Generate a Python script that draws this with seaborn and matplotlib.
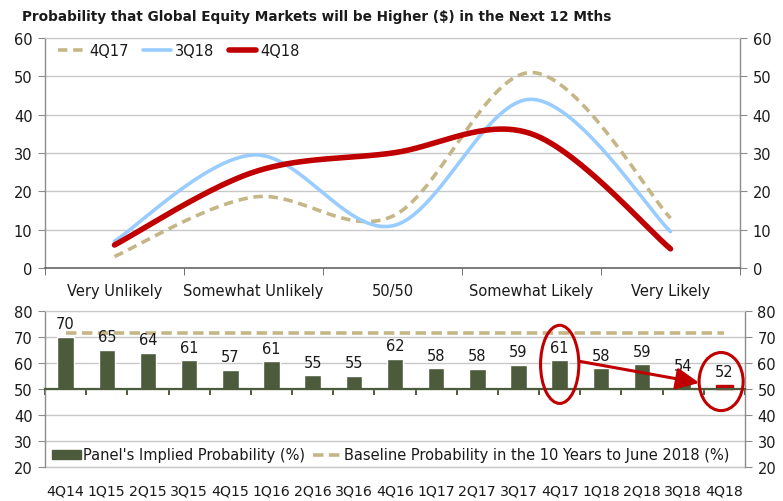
import numpy as np
import matplotlib
matplotlib.use("Agg")
import matplotlib.pyplot as plt
import seaborn as sns
from matplotlib.patches import Ellipse, Patch
from matplotlib.lines import Line2D

# ---------------- data ----------------
categories = ["Very Unlikely", "Somewhat Unlikely", "50/50", "Somewhat Likely", "Very Likely"]
s_4q17 = [3, 18.5, 13.5, 51, 13]
s_3q18 = [7, 29.5, 11, 44, 9.5]
s_4q18 = [6, 25, 30, 35, 5]

quarters = ["4Q14", "1Q15", "2Q15", "3Q15", "4Q15", "1Q16", "2Q16", "3Q16", "4Q16",
            "1Q17", "2Q17", "3Q17", "4Q17", "1Q18", "2Q18", "3Q18", "4Q18"]
implied = [70.0, 65.1, 63.9, 60.9, 57.3, 60.6, 55.2, 55.1, 61.6,
           57.9, 57.6, 59.3, 60.9, 57.9, 59.4, 53.8, 51.6]
baseline = 71.4

title = "Probability that Global Equity Markets will be Higher ($) in the Next 12 Mths"

# ---------------- style ----------------
sns.set_style("white")
plt.rcParams["font.family"] = ["DejaVu Sans"]

TAN = "#C5B687"
BLUE = "#99CCFF"
RED = "#C00000"
GREEN = "#4B5B3C"
GRID = "#C8C8C8"
SPINE = "#8C8C8C"
TXT = "#1a1a1a"
FS = 10.5


def smooth(vals, n=60):
    """Excel-like smoothed line: cubic Bezier through points."""
    y = np.asarray(vals, float)
    x = np.arange(len(y), dtype=float)
    m = len(y)
    xs, ys = [], []
    for i in range(m - 1):
        x0, y0 = (x[i - 1], y[i - 1]) if i > 0 else (x[i], y[i])
        x3, y3 = (x[i + 2], y[i + 2]) if i + 2 < m else (x[i + 1], y[i + 1])
        c1x = x[i] + (x[i + 1] - x0) / 6
        c1y = y[i] + (y[i + 1] - y0) / 6
        c2x = x[i + 1] - (x3 - x[i]) / 6
        c2y = y[i + 1] - (y3 - y[i]) / 6
        t = np.linspace(0, 1, n, endpoint=(i == m - 2))
        b0 = (1 - t) ** 3
        b1 = 3 * (1 - t) ** 2 * t
        b2 = 3 * (1 - t) * t ** 2
        b3 = t ** 3
        xs.append(b0 * x[i] + b1 * c1x + b2 * c2x + b3 * x[i + 1])
        ys.append(b0 * y[i] + b1 * c1y + b2 * c2y + b3 * y[i + 1])
    return np.concatenate(xs), np.concatenate(ys)


W, H = 783, 502
fig = plt.figure(figsize=(W / 100, H / 100), dpi=100)
fig.patch.set_facecolor("white")

fig.text(22 / W, 1 - 17 / H, title, ha="left", va="center",
         fontsize=9.8, fontweight="bold", color=TXT)

# ---------------- top panel ----------------
ax1 = fig.add_axes([45 / W, 1 - 269 / H, 695 / W, 230 / H])

dash_top = (0, (2.6, 1.6))
x, y = smooth(s_4q17)
sns.lineplot(x=x, y=y, sort=False, estimator=None, ax=ax1, color=TAN, lw=2.6,
             linestyle=dash_top)
x, y = smooth(s_3q18)
sns.lineplot(x=x, y=y, sort=False, estimator=None, ax=ax1, color=BLUE, lw=2.6,
             solid_capstyle="round")
x, y = smooth(s_4q18)
sns.lineplot(x=x, y=y, sort=False, estimator=None, ax=ax1, color=RED, lw=4.0,
             solid_capstyle="round")

ax1.set_xlim(-0.5, len(categories) - 0.5)
ax1.set_ylim(0, 60)
ax1.set_yticks(np.arange(0, 61, 10))
ax1.set_xticks(np.arange(len(categories)))
ax1.set_xticklabels(categories)
ax1.set_xticks(np.arange(-0.5, len(categories), 1), minor=True)
ax1.set_xlabel("")
ax1.set_ylabel("")
ax1.grid(axis="y", color=GRID, lw=1)
ax1.set_axisbelow(True)
for s in ["left", "right"]:
    ax1.spines[s].set_color(SPINE)
    ax1.spines[s].set_linewidth(1)
ax1.spines["top"].set_color(GRID)
ax1.spines["bottom"].set_color("#595959")
ax1.spines["bottom"].set_linewidth(1.1)
ax1.tick_params(axis="y", which="major", left=True, right=True, labelleft=True,
                labelright=True, direction="out", length=5, color=SPINE,
                labelsize=FS, pad=4, labelcolor=TXT)
ax1.tick_params(axis="x", which="major", length=0, labelsize=FS, pad=11, labelcolor=TXT)
ax1.tick_params(axis="x", which="minor", bottom=True, length=5, color="#595959",
                direction="out")

h1 = [Line2D([], [], color=TAN, lw=2.6, linestyle=dash_top),
      Line2D([], [], color=BLUE, lw=2.6),
      Line2D([], [], color=RED, lw=4.0, solid_capstyle="round")]
ax1.legend(h1, ["4Q17", "3Q18", "4Q18"], loc="center left",
           bbox_to_anchor=(13 / 695, 1 - 13 / 230), ncol=3, frameon=False,
           fontsize=FS, handlelength=1.9, handletextpad=0.25, columnspacing=1.0,
           borderpad=0, borderaxespad=0, labelcolor=TXT)

# ---------------- bottom panel ----------------
ax2 = fig.add_axes([45 / W, 1 - 468 / H, 700 / W, 156.3 / H])
n = len(quarters)

dash_bot = (0, (2.9, 1.5))
sns.lineplot(x=np.arange(n), y=[baseline] * n, ax=ax2, color=TAN, lw=2.6,
             linestyle=dash_bot)
sns.barplot(x=quarters, y=implied, color=GREEN, saturation=1, width=0.4, ax=ax2)

bars = ax2.containers[0]
for p in bars:
    top = p.get_y() + p.get_height()
    p.set_y(50)
    p.set_height(top - 50)
bars[-1].set_facecolor(RED)
bars[-1].set_edgecolor(RED)
ax2.bar_label(bars, labels=[f"{v:.0f}" for v in implied], padding=4,
              fontsize=FS, color=TXT)

ax2.set_xlim(-0.5, n - 0.5)
ax2.set_ylim(20, 80)
ax2.set_yticks(np.arange(20, 81, 10))
ax2.set_xlabel("")
ax2.set_ylabel("")
ax2.grid(axis="y", color=GRID, lw=1)
ax2.grid(axis="x", visible=False)
ax2.set_axisbelow(True)
for s in ["left", "right"]:
    ax2.spines[s].set_color(SPINE)
    ax2.spines[s].set_linewidth(1)
ax2.spines["top"].set_color(GRID)
ax2.spines["bottom"].set_position(("data", 50))
ax2.spines["bottom"].set_color(GREEN)
ax2.spines["bottom"].set_linewidth(1.6)
ax2.set_xticks(np.arange(n))
ax2.set_xticks(np.arange(-0.5, n, 1), minor=True)
ax2.tick_params(axis="x", which="major", length=0, labelbottom=False)
ax2.tick_params(axis="x", which="minor", bottom=True, length=4, color=GREEN,
                width=1.4, direction="out")
ax2.tick_params(axis="y", which="major", left=True, right=True, labelleft=True,
                labelright=True, direction="out", length=5, color=SPINE,
                labelsize=FS, pad=4, labelcolor=TXT)

sec = ax2.secondary_xaxis(0.0)
sec.set_xticks(np.arange(n))
sec.set_xticklabels(quarters)
sec.tick_params(length=0, labelsize=10.2, pad=12, labelcolor=TXT)
sec.spines["bottom"].set_color(GRID)
sec.spines["bottom"].set_linewidth(1)

h2 = [Patch(facecolor=GREEN, edgecolor=GREEN),
      Line2D([], [], color=TAN, lw=2.6, linestyle=dash_bot)]
ax2.legend(h2, ["Panel's Implied Probability (%)",
                "Baseline Probability in the 10 Years to June 2018 (%)"],
           loc="center left", bbox_to_anchor=(7 / 700, 12 / 156.3), ncol=2,
           frameon=False, fontsize=FS, handlelength=2.0, handleheight=0.6,
           handletextpad=0.15, columnspacing=0.5, borderpad=0, borderaxespad=0,
           labelcolor=TXT)

# annotations: circles and arrow
ax2.add_patch(Ellipse((12.0, 59.4), 0.93, 30, fill=False, ec=RED, lw=2.2,
                      clip_on=False, zorder=5))
ax2.add_patch(Ellipse((15.92, 52.8), 1.07, 22.3, fill=False, ec=RED, lw=2.2,
                      clip_on=False, zorder=5))
ax2.annotate("", xy=(15.39, 52.3), xytext=(12.47, 60.6),
             arrowprops=dict(arrowstyle="-|>,head_length=0.7,head_width=0.33",
                             mutation_scale=20, color=RED, lw=2.2,
                             shrinkA=0, shrinkB=0), zorder=6)

fig.savefig("out.png", dpi=100, facecolor="white")
